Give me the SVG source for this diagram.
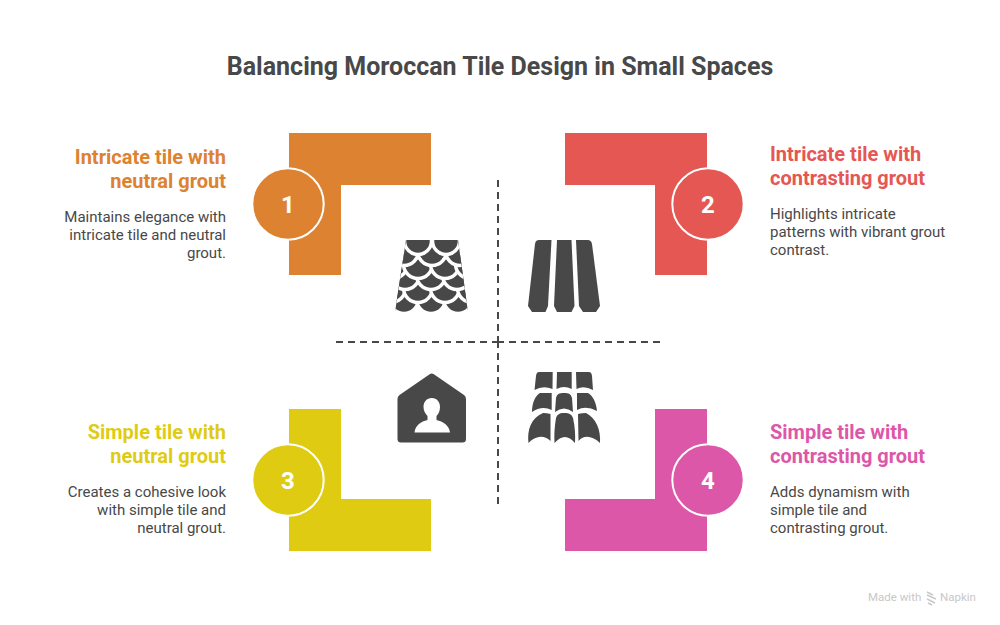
<svg xmlns="http://www.w3.org/2000/svg" width="1000" height="625" viewBox="0 0 1000 625">
<style>
text{font-family:Roboto,"Liberation Sans",sans-serif}
.t{font-size:25px;font-weight:700;fill:#484848;text-anchor:middle}
.h{font-size:20px;font-weight:700}
.b{font-size:15px;fill:#484848}
.e{text-anchor:end}
.n{font-size:24px;font-weight:700;fill:#fff;text-anchor:middle}
.c{stroke:#fff;stroke-width:2}
.i{fill:#484848}
.s{fill:#484848;stroke:#fff;stroke-width:3.500}
.d{fill:none;stroke:#484848;stroke-width:2;stroke-dasharray:7 5}
.f{font-size:11.5px;fill:#c8c8c8}
</style>
<defs>
<clipPath id="sc"><path d="M406 240H458L468 312H395Z"/></clipPath>
</defs>
<rect width="1000" height="625" fill="#fff"/>
<text class="t" x="500" y="75">Balancing Moroccan Tile Design in Small Spaces</text>
<g id="connectors">
<path class="d" d="M498 180V342"/>
<path class="d" d="M498 504V342"/>
<path class="d" d="M336 342H498"/>
<path class="d" d="M660 342H498"/>
</g>
<g id="node1">
<path fill="#DD8230" d="M289 133H431V185H341V275H289Z"/>
<circle class="c" fill="#DD8230" cx="288" cy="204" r="35.700"/>
<text class="n" x="288" y="213">1</text>
<text class="h e" fill="#DD8230" x="226" y="164">Intricate tile with</text>
<text class="h e" fill="#DD8230" x="226" y="188">neutral grout</text>
<text class="b e" x="226" y="222">Maintains elegance with</text>
<text class="b e" x="226" y="240">intricate tile and neutral</text>
<text class="b e" x="226" y="258">grout.</text>
</g>
<g id="node2">
<path fill="#E55753" d="M565 133H707V275H655V185H565Z"/>
<circle class="c" fill="#E55753" cx="708" cy="204" r="35.700"/>
<text class="n" x="708" y="213">2</text>
<text class="h" fill="#E55753" x="770" y="161">Intricate tile with</text>
<text class="h" fill="#E55753" x="770" y="185">contrasting grout</text>
<text class="b" x="770" y="219">Highlights intricate</text>
<text class="b" x="770" y="237">patterns with vibrant grout</text>
<text class="b" x="770" y="255">contrast.</text>
</g>
<g id="node3">
<path fill="#DFCC12" d="M289 409H341V499H431V551H289Z"/>
<circle class="c" fill="#DFCC12" cx="288" cy="480" r="35.700"/>
<text class="n" x="288" y="489">3</text>
<text class="h e" fill="#DFCC12" x="226" y="439">Simple tile with</text>
<text class="h e" fill="#DFCC12" x="226" y="463">neutral grout</text>
<text class="b e" x="226" y="497">Creates a cohesive look</text>
<text class="b e" x="226" y="515">with simple tile and</text>
<text class="b e" x="226" y="533">neutral grout.</text>
</g>
<g id="node4">
<path fill="#DD57A9" d="M655 409H707V551H565V499H655Z"/>
<circle class="c" fill="#DD57A9" cx="708" cy="480" r="35.700"/>
<text class="n" x="708" y="489">4</text>
<text class="h" fill="#DD57A9" x="770" y="439">Simple tile with</text>
<text class="h" fill="#DD57A9" x="770" y="463">contrasting grout</text>
<text class="b" x="770" y="497">Adds dynamism with</text>
<text class="b" x="770" y="515">simple tile and</text>
<text class="b" x="770" y="533">contrasting grout.</text>
</g>
<g id="icon1" clip-path="url(#sc)">
<circle class="s" cx="404" cy="299" r="14.500"/><circle class="s" cx="431" cy="299" r="14.500"/><circle class="s" cx="458" cy="299" r="14.500"/>
<circle class="s" cx="391" cy="288" r="14.500"/><circle class="s" cx="418" cy="288" r="14.500"/><circle class="s" cx="445" cy="288" r="14.500"/><circle class="s" cx="472" cy="288" r="14.500"/>
<circle class="s" cx="405" cy="275" r="14.500"/><circle class="s" cx="431" cy="275" r="14.500"/><circle class="s" cx="457" cy="275" r="14.500"/>
<circle class="s" cx="393" cy="264" r="14.500"/><circle class="s" cx="418" cy="264" r="14.500"/><circle class="s" cx="445" cy="264" r="14.500"/><circle class="s" cx="470" cy="264" r="14.500"/>
<circle class="s" cx="404" cy="251" r="14.500"/><circle class="s" cx="432" cy="251" r="14.500"/><circle class="s" cx="460" cy="251" r="14.500"/>
<circle class="s" cx="418" cy="241" r="13.500"/><circle class="s" cx="446" cy="241" r="13.500"/>
</g>
<g id="icon2" class="i">
<path d="M539 240H551.500L548 306L545.500 312H532L528 306L535 244Q535.500 240 539 240Z"/>
<path d="M557 240H571.500L574.500 306L571.500 312H557L554 306Z"/>
<path d="M576 240H588Q591 240 592 244L600 306L596 312H583L579 306Z"/>
</g>
<g id="icon3" class="i">
<path fill-rule="evenodd" d="M430 374Q431.700 373 433.500 374L464 395Q466 396.500 466 399V439Q466 442.500 462.500 442.500H401Q397.500 442.500 397.500 439V399Q397.500 396.500 399.500 395ZM431.800 398C426.500 398 423.500 402 423.500 407C423.500 411 425.500 414 427.500 416V420C421 421.500 415.500 425 414.500 432.500H450C449 425 443 421.500 436.500 420V416C438.500 414 440 411 440 407C440 402 437 398 431.800 398Z"/>
</g>
<g id="icon4" class="i">
<path d="M539 372H552.700L552.500 389Q543 385 534.500 390L536 376Q536.500 372 539 372Z"/>
<path d="M557 372H571.700V389Q564 385 556.500 389Z"/>
<path d="M576 372H589Q591.500 372 592 376L593 390Q584 385 576.500 389Z"/>
<path d="M540 393H551.700V410Q542 405 532 412C532 402 536 395 540 393Z"/>
<path d="M564 393C569 393 571 394 572 398L573 412Q564 405 555 412L556 398C557 394 559 393 564 393Z"/>
<path d="M577 393H588C593 396 596 402 597 411Q586 405 577 410Z"/>
<path d="M543 413Q547 413 550.500 414V441Q545 436 539 437Q533 438 528.500 443C527 430 531 418 543 413Z"/>
<path d="M564 413C570 413 572 415 573 418C575 427 575.500 435 575 443Q565 431 554.500 443C554 435 554.500 427 556 418C557 415 559 413 564 413Z"/>
<path d="M578 414Q582 413 586 413C596 418 601 430 600 443Q595 438 589 437Q583 436 578.500 441Z"/>
</g>
<g id="footer">
<text class="f" x="868" y="601">Made with</text>
<path fill="none" stroke="#c8c8c8" stroke-width="1.400" d="M927 592L933 595M927 595L936 599M927 599L935 603M928 603L932 605"/>
<text class="f" x="940" y="601">Napkin</text>
</g>
</svg>
